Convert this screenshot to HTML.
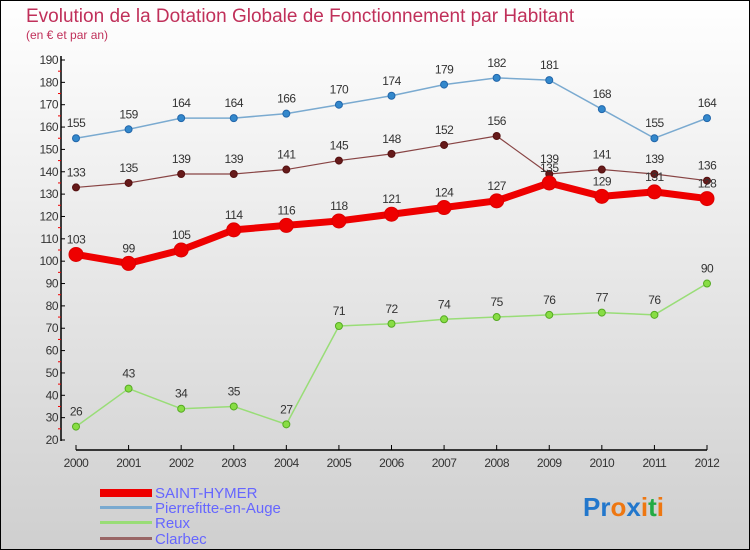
<!DOCTYPE html>
<html><head><meta charset="utf-8"><style>
html,body{margin:0;padding:0}
body{width:750px;height:550px;overflow:hidden;font-family:"Liberation Sans",sans-serif}
svg{display:block}
</style></head><body>
<svg id="c" width="750" height="550" xmlns="http://www.w3.org/2000/svg">
<defs><linearGradient id="bg" x1="0" y1="0" x2="0" y2="1"><stop offset="0" stop-color="#ffffff"/><stop offset="1" stop-color="#cfcfcf"/></linearGradient></defs>
<rect x="0.5" y="0.5" width="749" height="549" fill="url(#bg)" stroke="#000"/>
<text x="26" y="22" font-size="19" fill="#c0305a">Evolution de la Dotation Globale de Fonctionnement par Habitant</text>
<text x="26" y="39" font-size="12" fill="#c0305a">(en € et par an)</text>
<g id="axes"></g><g id="series"></g>
<g>
<rect x="100" y="489" width="52" height="8" fill="#e00"/>
<text x="155" y="498" font-size="15" fill="#6666ff">SAINT-HYMER</text>
<rect x="100" y="506" width="52" height="3" fill="#7aaad0"/>
<text x="155" y="513" font-size="15" fill="#6666ff">Pierrefitte-en-Auge</text>
<rect x="100" y="521" width="52" height="3" fill="#99dd77"/>
<text x="155" y="528" font-size="15" fill="#6666ff">Reux</text>
<rect x="100" y="537" width="52" height="3" fill="#996666"/>
<text x="155" y="544" font-size="15" fill="#6666ff">Clarbec</text>
</g>
<g font-size="26" font-weight="bold">
<text x="583" y="516"><tspan fill="#2277cc">Pr</tspan><tspan fill="#ee7711">o</tspan><tspan fill="#2277cc">x</tspan><tspan fill="#ee7711">i</tspan><tspan fill="#22aa44">t</tspan><tspan fill="#ee7711">i</tspan></text>
</g>
</svg>
<script>
const years=[2000,2001,2002,2003,2004,2005,2006,2007,2008,2009,2010,2011,2012];
const yTicks=[20,30,40,50,60,70,80,90,100,110,120,130,140,150,160,170,180,190];
const saintHymer=[103,99,105,114,116,118,121,124,127,135,129,131,128];
const pierrefitte=[155,159,164,164,166,170,174,179,182,181,168,155,164];
const reux=[26,43,34,35,27,71,72,74,75,76,77,76,90];
const clarbec=[133,135,139,139,141,145,148,152,156,139,141,139,136];
const NS="http://www.w3.org/2000/svg";
const X=i=>76+i*(707-76)/12;
const Y=v=>440-(v-20)*(440-60)/170;
function mk(t,a,p){const e=document.createElementNS(NS,t);for(const k in a)e.setAttribute(k,a[k]);p.appendChild(e);return e;}
const ax=document.getElementById('axes');
let l=mk('line',{x1:61,y1:56,x2:61,y2:441,stroke:'#000','stroke-width':1.5},ax);


l=mk('line',{x1:76,y1:450,x2:707,y2:450,stroke:'#000','stroke-width':1.5},ax);


yTicks.forEach((v,i)=>{
 mk('line',{x1:61,y1:Y(v),x2:65,y2:Y(v),stroke:'#000'},ax);
 if(i<yTicks.length-1)mk('line',{x1:58,y1:Y(v+5),x2:61,y2:Y(v+5),stroke:'#e00'},ax);
 const t=mk('text',{x:58,y:Y(v)+4,'font-size':12,fill:'#333','text-anchor':'end','letter-spacing':'-0.5'},ax);
 t.textContent=v;
 
 
});
years.forEach((y,i)=>{
 mk('line',{x1:X(i),y1:445,x2:X(i),y2:450,stroke:'#000'},ax);
 const t=mk('text',{x:X(i),y:467,'font-size':12,fill:'#333','text-anchor':'middle','letter-spacing':'-0.5'},ax);
 t.textContent=y;
 
 
});
const sg=document.getElementById('series');
function draw(vals,name,color,w,r,dot,dotStroke){
 const g=mk('g',{},sg);
 
 
 mk('polyline',{points:vals.map((v,i)=>X(i)+','+Y(v)).join(' '),fill:'none',stroke:color,'stroke-width':w,'stroke-linejoin':'round'},g);
 vals.forEach((v,i)=>{
  const c=mk('circle',{cx:X(i),cy:Y(v),r:r,fill:dot,stroke:dotStroke,'stroke-width':1},g);
  
  
  const t=mk('text',{x:X(i),y:Y(v)-11,'font-size':12,fill:'#333','text-anchor':'middle','letter-spacing':'-0.5'},g);
  t.textContent=v;
  
  
 });
}
draw(pierrefitte,'pierrefitte','#7aaad0',1.5,3.5,'#3388cc','#2266aa');
draw(reux,'reux','#99dd77',1.5,3.5,'#88dd44','#55aa22');
draw(clarbec,'clarbec','#884444',1.2,3.5,'#661a1a','#551111');
draw(saintHymer,'saint-hymer','#ee0000',7,7,'#ee0000','#dd0000');
</script>
</body></html>
